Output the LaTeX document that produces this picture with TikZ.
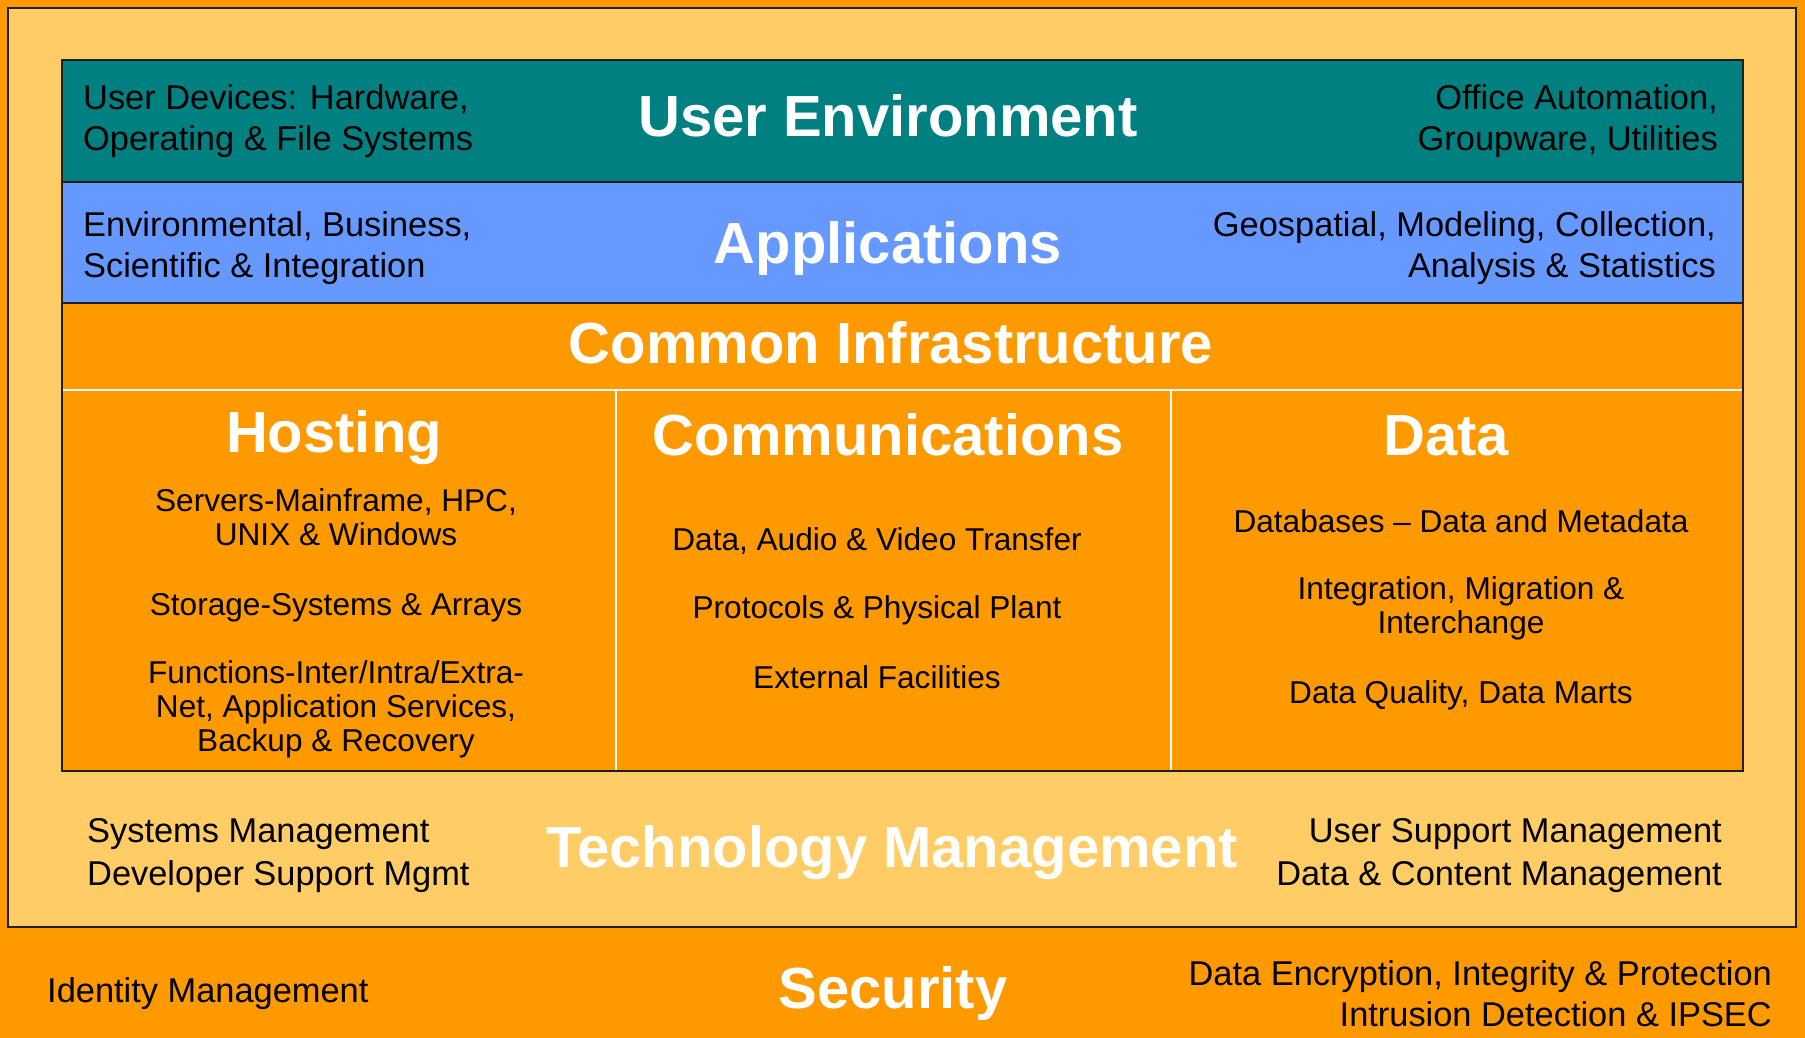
\documentclass[tikz,border=0pt]{standalone}
\usepackage{fontspec}
\setmainfont{Liberation Sans}
\definecolor{secorange}{HTML}{FF9900}
\definecolor{tmyellow}{HTML}{FFCC66}
\definecolor{uegreen}{HTML}{008080}
\definecolor{appblue}{HTML}{6699FF}
\definecolor{edgedark}{HTML}{1F1F1F}
\begin{document}
\begin{tikzpicture}[x=1pt,y=-1pt,
  title/.style={text=white, font=\fontsize{58}{62}\selectfont\bfseries, inner sep=0, anchor=base},
  label/.style={text=black, font=\fontsize{34.4}{41}\selectfont, inner sep=0},
  labelwide/.style={text=black, font=\fontsize{34.4}{43}\selectfont, inner sep=0},
  item/.style={text=black, font=\fontsize{31.6}{34}\selectfont, inner sep=0, align=center, anchor=base},
  edgeline/.style={draw=edgedark, line width=2pt},
  whiteline/.style={draw=white, line width=2pt}]
\useasboundingbox (0,0) rectangle (1805,1038);
% backgrounds
\fill[secorange] (0,0) rectangle (1805,1038);
\filldraw[fill=tmyellow, edgeline] (8,8) rectangle (1796,927);
\fill[uegreen] (62,60) rectangle (1743,182);
\fill[appblue] (62,182) rectangle (1743,303);
\fill[secorange] (62,303) rectangle (1743,771);
\draw[edgeline] (62,182) -- (1743,182);
\draw[edgeline] (62,303) -- (1743,303);
\draw[whiteline] (62,390) -- (1743,390);
\draw[whiteline] (616,390) -- (616,771);
\draw[whiteline] (1171,390) -- (1171,771);
\draw[edgeline] (62,60) rectangle (1743,771);
% User Environment (multi-line nodes: base = last line's baseline)
\node[title] (ue) at (888,137) {User Environment};
\node[label, anchor=base west, align=left] (uel) at (83,150) {User Devices: Hardware,\\Operating \& File Systems};
\node[label, anchor=base east, align=right] (uer) at (1718,150) {Office Automation,\\Groupware, Utilities};
% Applications
\node[title] (app) at (888,263) {Applications};
\node[label, anchor=base west, align=left] (appl) at (83,277) {Environmental, Business,\\Scientific \& Integration};
\node[label, anchor=base east, align=right] (appr) at (1716,277) {Geospatial, Modeling, Collection,\\Analysis \& Statistics};
% Common Infrastructure
\node[title] (ci) at (891,363) {Common Infrastructure};
\node[title] (host) at (334,452) {Hosting};
\node[title] (comm) at (888,455) {Communications};
\node[title] (data) at (1446,455) {Data};
\node[item] (h1) at (336,545) {Servers-Mainframe, HPC,\\UNIX \& Windows};
\node[item] (h2) at (336,615) {Storage-Systems \& Arrays};
\node[item] (h3) at (336,751) {Functions-Inter/Intra/Extra-\\Net, Application Services,\\Backup \& Recovery};
\node[item] (c1) at (877,550) {Data, Audio \& Video Transfer};
\node[item] (c2) at (877,618) {Protocols \& Physical Plant};
\node[item] (c3) at (877,688) {External Facilities};
\node[item] (d1) at (1461,532) {Databases – Data and Metadata};
\node[item] (d2) at (1461,633) {Integration, Migration \&\\Interchange};
\node[item] (d3) at (1461,703) {Data Quality, Data Marts};
% Technology Management
\node[title] (tm) at (892,867) {Technology Management};
\node[labelwide, anchor=base west, align=left] (tml) at (87,885) {Systems Management\\Developer Support Mgmt};
\node[labelwide, anchor=base east, align=right] (tmr) at (1722,885) {User Support Management\\Data \& Content Management};
% Security
\node[title] (sec) at (893,1008) {Security};
\node[label, anchor=base west] (secl) at (47,1002) {Identity Management};
\node[label, anchor=base east, align=right] (secr) at (1772,1026) {Data Encryption, Integrity \& Protection\\Intrusion Detection \& IPSEC};
\end{tikzpicture}
\end{document}
